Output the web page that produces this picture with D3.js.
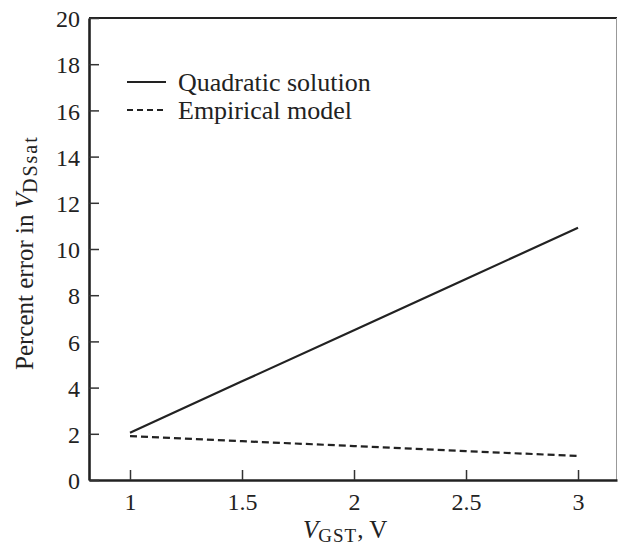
<!DOCTYPE html>
<html>
<head>
<meta charset="utf-8">
<script src="https://cdn.jsdelivr.net/npm/d3@7"></script>
<style>
  body { margin: 0; background: #fff; }
  text { font-family: "Liberation Serif", "Times New Roman", serif; fill: #222; }
</style>
</head>
<body>
<svg></svg>
<script>
const width = 618;
const height = 547;

// data
const vgst = [1, 1.5, 2, 2.5, 3];
const quadratic = [2.05, 4.27, 6.48, 8.7, 10.92];
const empirical = [1.9, 1.68, 1.47, 1.25, 1.04];
const xTicks = [1, 1.5, 2, 2.5, 3];
const yTicks = [0, 2, 4, 6, 8, 10, 12, 14, 16, 18, 20];

const plotLeft = 89, plotRight = 617, plotTop = 18, plotBottom = 480;

const svg = d3.select("svg").attr("width", width).attr("height", height);

const x = d3.scaleLinear().domain([0.817, 3.174]).range([plotLeft, plotRight]);
const y = d3.scaleLinear().domain([0, 20]).range([plotBottom, plotTop]);

// frame: top and right
svg.append("line")
	.attr("x1", plotLeft).attr("x2", plotRight).attr("y1", plotTop).attr("y2", plotTop)
	.attr("stroke", "#222").attr("stroke-width", 2.2);
svg.append("line")
	.attr("x1", plotRight - 0.5).attr("x2", plotRight - 0.5).attr("y1", plotTop).attr("y2", plotBottom)
	.attr("stroke", "#999").attr("stroke-width", 1);

// axes
const xAxis = svg.append("g")
	.attr("transform", `translate(0,${plotBottom})`)
	.call(d3.axisBottom(x).tickValues(xTicks).tickSizeInner(-10).tickSizeOuter(0)
		.tickFormat(d3.format("")));
const yAxis = svg.append("g")
	.attr("transform", `translate(${plotLeft},0)`)
	.call(d3.axisLeft(y).tickValues(yTicks).tickSizeInner(-10).tickSizeOuter(0).tickPadding(9));

xAxis.select(".domain").attr("stroke", "#222").attr("stroke-width", 2.6);
yAxis.select(".domain").attr("stroke", "#222").attr("stroke-width", 2.6);
svg.selectAll(".tick line").attr("stroke", "#333").attr("stroke-width", 1.5);
svg.selectAll(".tick text")
	.style("font-family", "'Liberation Serif', serif").style("font-size", "24px").attr("fill", "#222");
xAxis.selectAll(".tick text").attr("y", 30).attr("dy", 0);
yAxis.selectAll(".tick text").attr("dy", "0.36em");

// lines
const line = (vals) => d3.line()
	.x((d, i) => x(vgst[i]))
	.y((d) => y(d))(vals);

svg.append("path")
	.attr("d", line(quadratic))
	.attr("fill", "none").attr("stroke", "#222").attr("stroke-width", 2.2);
svg.append("path")
	.attr("d", line(empirical))
	.attr("fill", "none").attr("stroke", "#222").attr("stroke-width", 2.2)
	.attr("stroke-dasharray", "7,4");

// legend
const legend = [
	{ label: "Quadratic solution", dash: null, y: 82 },
	{ label: "Empirical model", dash: "6,4", y: 110 }
];
const lg = svg.append("g");
lg.selectAll("line").data(legend).enter().append("line")
	.attr("x1", 127).attr("x2", 166)
	.attr("y1", (d) => d.y).attr("y2", (d) => d.y)
	.attr("stroke", "#222").attr("stroke-width", 2)
	.attr("stroke-dasharray", (d) => d.dash);
lg.selectAll("text").data(legend).enter().append("text")
	.attr("x", 178).attr("y", (d) => d.y + 9)
	.style("font-size", "26px")
	.text((d) => d.label);

// x title
const xt = svg.append("text")
	.attr("x", 303).attr("y", 538)
	.style("font-size", "25px");
xt.append("tspan").style("font-style", "italic").text("V");
xt.append("tspan").attr("dy", 4).style("font-size", "19px").style("letter-spacing", "1px").text("GST");
xt.append("tspan").attr("dy", -4).text(", V");

// y title
const yt = svg.append("text")
	.attr("transform", "translate(33,370) rotate(-90)")
	.style("font-size", "25px");
yt.append("tspan").text("Percent error in ");
yt.append("tspan").style("font-style", "italic").text("V");
yt.append("tspan").attr("dy", 4).style("font-size", "20px").style("letter-spacing", "2px").text("DSsat");
</script>
</body>
</html>
